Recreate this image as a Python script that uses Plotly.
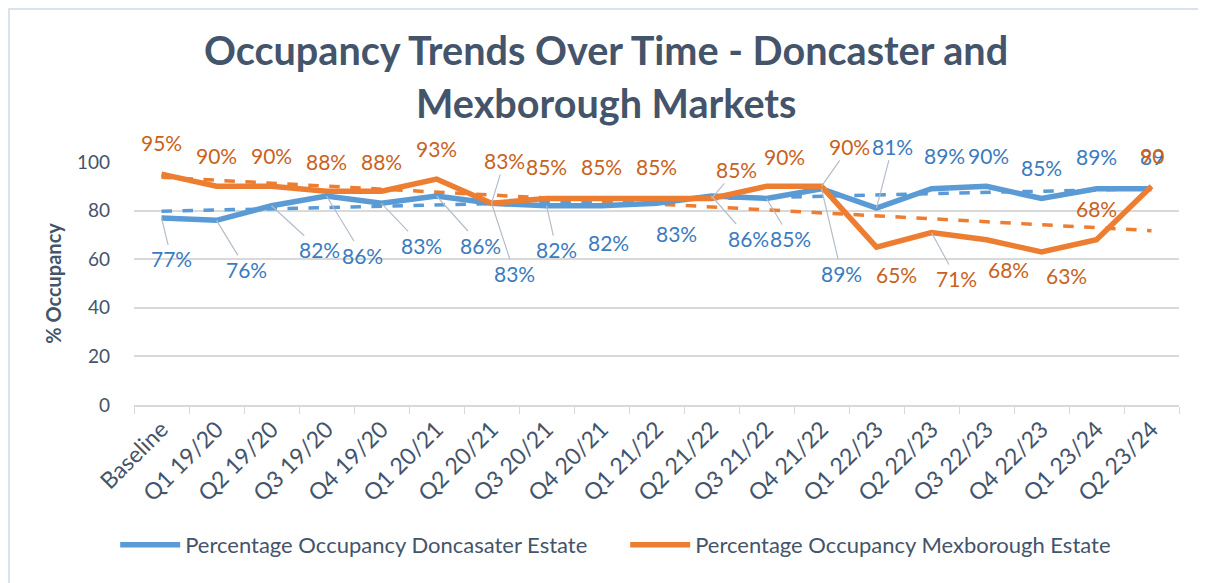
import numpy as np
import plotly.graph_objects as go

periods = ["Baseline", "Q1 19/20", "Q2 19/20", "Q3 19/20", "Q4 19/20",
           "Q1 20/21", "Q2 20/21", "Q3 20/21", "Q4 20/21",
           "Q1 21/22", "Q2 21/22", "Q3 21/22", "Q4 21/22",
           "Q1 22/23", "Q2 22/23", "Q3 22/23", "Q4 22/23",
           "Q1 23/24", "Q2 23/24"]
doncaster = [77, 76, 82, 86, 83, 86, 83, 82, 82, 83, 86, 85, 89, 81, 89, 90, 85, 89, 89]
mexborough = [95, 90, 90, 88, 88, 93, 83, 85, 85, 85, 85, 90, 90, 65, 71, 68, 63, 68, 90]

# where excel pushed the data labels (pixels from the point, dy down)
don_offsets = [(10, 41), (30, 49), (48, 44), (36, 59), (40, 42), (44, 49), (23, 70),
               (10, 44), (7, 37), (20, 30), (37, 42), (24, 40), (20, 85), (16, -62),
               (13, -33), (2, -31), (0, -31), (0, -32), (0, -32)]
mex_offsets = [(0, -32), (0, -31), (0, -31), (0, -30), (0, -30), (0, -31), (13, -43),
               (0, -32), (0, -32), (0, -32), (25, -29), (18, -30), (28, -40), (20, 27),
               (25, 46), (22, 30), (25, 24), (0, -31), (0, -31)]

blue = "#5B9BD5"
orange = "#ED7D31"
blue_txt = "#3A7BC0"
orange_txt = "#C9621C"
slate = "#44546A"
grid = "#D9D9D9"
font_family = "Lato, Open Sans, sans-serif"

idx = np.arange(len(periods))
don_trend = np.polyval(np.polyfit(idx, doncaster, 1), idx)
mex_trend = np.polyval(np.polyfit(idx, mexborough, 1), idx)

fig = go.Figure()
fig.add_trace(go.Scatter(x=periods, y=don_trend, mode="lines", showlegend=False,
                         line=dict(color=blue, width=3.5, dash="dash"), hoverinfo="skip"))
fig.add_trace(go.Scatter(x=periods, y=mex_trend, mode="lines", showlegend=False,
                         line=dict(color=orange, width=3.5, dash="dash"), hoverinfo="skip"))
fig.add_trace(go.Scatter(x=periods, y=doncaster, mode="lines",
                         name="Percentage Occupancy Doncasater Estate",
                         line=dict(color=blue, width=5.5)))
fig.add_trace(go.Scatter(x=periods, y=mexborough, mode="lines",
                         name="Percentage Occupancy Mexborough Estate",
                         line=dict(color=orange, width=5.5)))

annotations = []
last = len(periods) - 1
for values, offsets, col in [(doncaster, don_offsets, blue_txt), (mexborough, mex_offsets, orange_txt)]:
    for i, v in enumerate(values):
        dx, dy = offsets[i]
        txt = f"{v}%" if i != last else f"{v}"
        ann = dict(x=periods[i], y=v, xref="x", yref="y", text=txt,
                   font=dict(family=font_family, size=21, color=col))
        if np.hypot(dx, dy) > 38:
            ann.update(showarrow=True, ax=dx, ay=dy, arrowhead=0, arrowwidth=1.2,
                       arrowcolor="#B4BDCA", standoff=0)
        else:
            ann.update(showarrow=False, xshift=dx, yshift=-dy)
        annotations.append(ann)

# chart title, two lines (excel leaves wide line spacing)
title_lines = ["Occupancy Trends Over Time - Doncaster and", "Mexborough Markets"]
for line, ty in zip(title_lines, [1.461, 1.243]):
    annotations.append(dict(text=f"<b>{line}</b>", xref="paper", yref="paper", x=0.452, y=ty,
                            xanchor="center", yanchor="middle", showarrow=False,
                            font=dict(family=font_family, size=39.6, color=slate)))

# page body adds an 8px offset, margins are trimmed for it
fig.update_layout(
    width=1206, height=583,
    margin=dict(l=126, r=35, t=154, b=186),
    paper_bgcolor="white", plot_bgcolor="white",
    font=dict(family=font_family, color=slate),
    legend=dict(orientation="h", x=-0.018, xanchor="left", y=-0.576, yanchor="middle",
                font=dict(size=22, color=slate), itemwidth=60, tracegroupgap=0,
                entrywidth=435, entrywidthmode="pixels"),
    annotations=annotations,
    shapes=[dict(type="rect", xref="paper", yref="paper",
                 x0=-0.1196, x1=1.2, y0=-1.0, y1=1.6296,
                 line=dict(color="#DDE2EA", width=2))],
)
fig.update_xaxes(range=[-0.5, len(periods) - 0.5], showgrid=False, showline=True,
                 linecolor=grid, linewidth=1.5,
                 ticks="outside", tickson="boundaries", ticklen=7, tickcolor=grid,
                 tickangle=-45, tickfont=dict(size=23, color=slate), automargin=False)
fig.update_yaxes(range=[0, 100], dtick=20, showgrid=True, gridcolor=grid, gridwidth=1.5,
                 zeroline=False, showline=False, ticks="", ticklabelstandoff=23,
                 tickfont=dict(size=19, color=slate), automargin=False,
                 title=dict(text="<b>% Occupancy</b>", font=dict(size=20, color=slate), standoff=9))

fig.write_html("out.html")
